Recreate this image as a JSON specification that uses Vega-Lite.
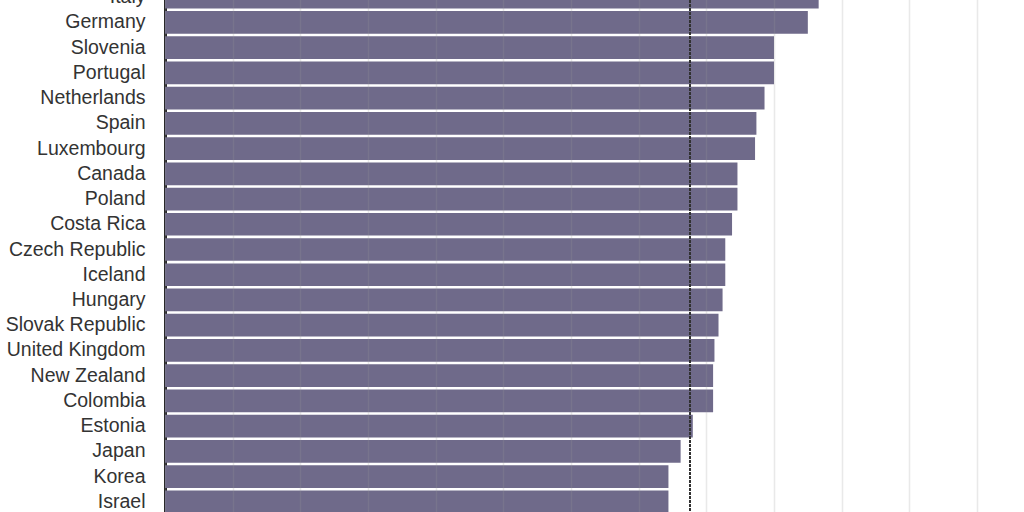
{
  "$schema": "https://vega.github.io/schema/vega-lite/v6.json",
  "width": 812,
  "height": 512,
  "autosize": {"type": "none"},
  "padding": {"left": 165, "top": 0, "right": 47, "bottom": 0},
  "background": "white",
  "config": {"view": {"stroke": null}},
  "data": {
    "values": [
      {"country": "Italy", "value": 48.3},
      {"country": "Germany", "value": 47.5},
      {"country": "Slovenia", "value": 45.0},
      {"country": "Portugal", "value": 45.0},
      {"country": "Netherlands", "value": 44.3},
      {"country": "Spain", "value": 43.7},
      {"country": "Luxembourg", "value": 43.6},
      {"country": "Canada", "value": 42.3},
      {"country": "Poland", "value": 42.3},
      {"country": "Costa Rica", "value": 41.9},
      {"country": "Czech Republic", "value": 41.4},
      {"country": "Iceland", "value": 41.4},
      {"country": "Hungary", "value": 41.2},
      {"country": "Slovak Republic", "value": 40.9},
      {"country": "United Kingdom", "value": 40.6},
      {"country": "New Zealand", "value": 40.5},
      {"country": "Colombia", "value": 40.5},
      {"country": "Estonia", "value": 39.0},
      {"country": "Japan", "value": 38.1},
      {"country": "Korea", "value": 37.2},
      {"country": "Israel", "value": 37.2}
    ]
  },
  "layer": [
    {
      "mark": {"type": "bar", "color": "#6f6a8a"},
      "encoding": {
        "y": {
          "field": "country",
          "type": "nominal",
          "sort": null,
          "scale": {"range": [-15.4, 514.4], "paddingInner": 0.1, "paddingOuter": 0.05},
          "axis": {
            "title": null,
            "ticks": false,
            "domainColor": "#222222",
            "domainWidth": 3,
            "labelFont": "Liberation Sans",
            "labelFontSize": 19.5,
            "labelColor": "#333333",
            "labelPadding": 20,
            "grid": false
          }
        },
        "x": {
          "field": "value",
          "type": "quantitative",
          "scale": {"domain": [0, 60], "nice": false},
          "axis": {
            "title": null,
            "labels": false,
            "ticks": false,
            "domain": false,
            "grid": true,
            "values": [0, 5, 10, 15, 20, 25, 30, 35, 40, 45, 50, 55, 60],
            "gridColor": "#999999",
            "gridOpacity": 0.22,
            "gridWidth": 1.5,
            "zindex": 1
          }
        }
      }
    },
    {
      "mark": {"type": "rule", "color": "#333333", "strokeDash": [2.5, 1.5], "strokeWidth": 1.6, "opacity": 0.65},
      "encoding": {"x": {"datum": 38.8, "type": "quantitative"}}
    }
  ]
}
